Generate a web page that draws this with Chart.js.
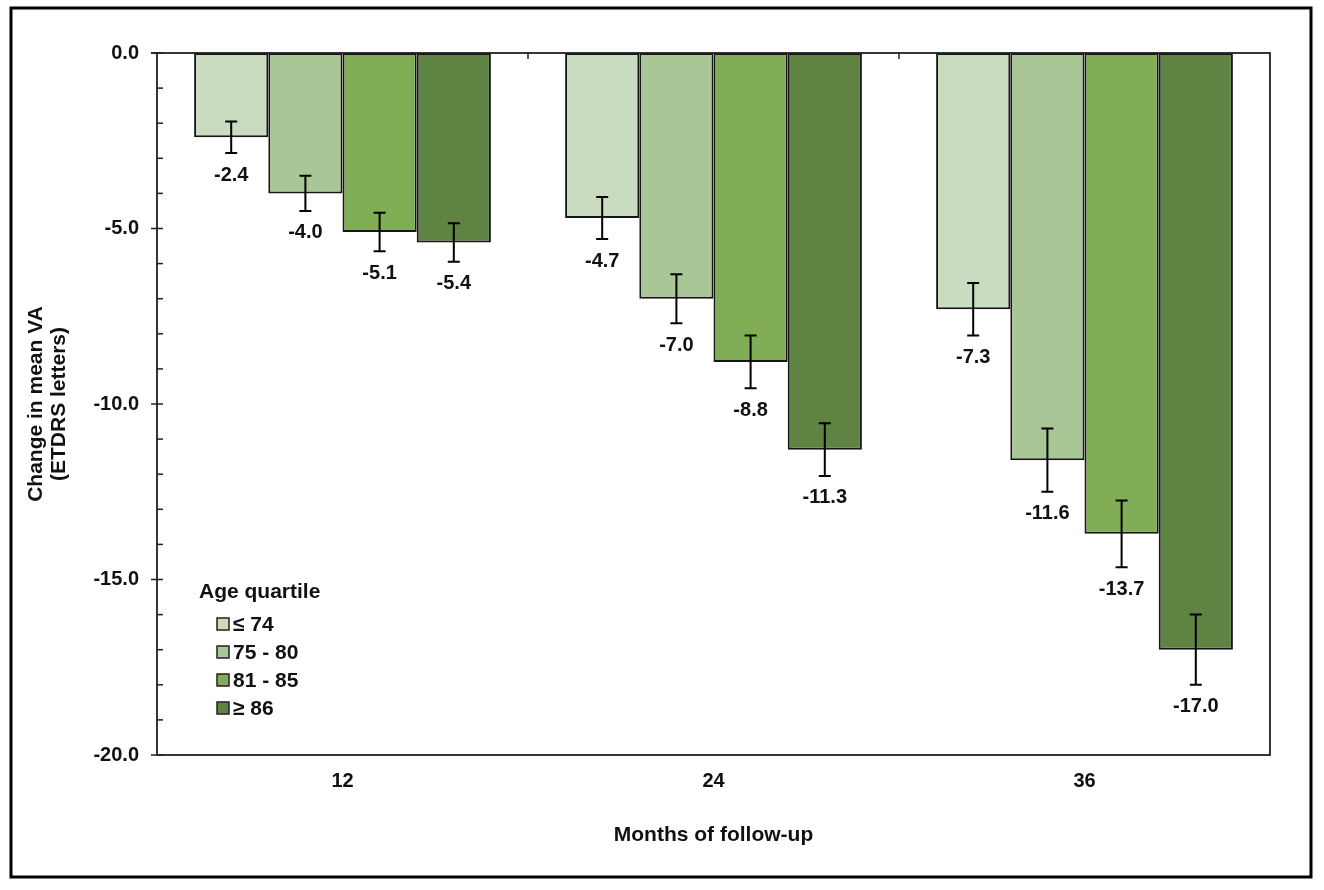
<!DOCTYPE html>
<html>
<head>
<meta charset="utf-8">
<script src="https://cdn.jsdelivr.net/npm/chart.js@4.4.1/dist/chart.umd.min.js"></script>
<style>
  html, body { margin: 0; padding: 0; background: #fff; }
  #wrap { width: 1324px; height: 890px; }
</style>
</head>
<body>
<div id="wrap"><canvas id="vaChart" width="1324" height="890"></canvas></div>
<script>
// ---- data ----
const months    = ['12', '24', '36'];
const ageGroups = ['\u2264 74', '75 - 80', '81 - 85', '\u2265 86'];

const q1 = [-2.4, -4.7, -7.3];
const q2 = [-4.0, -7.0, -11.6];
const q3 = [-5.1, -8.8, -13.7];
const q4 = [-5.4, -11.3, -17.0];

// half-length of the error bars
const q1Err = [0.45, 0.60, 0.75];
const q2Err = [0.50, 0.70, 0.90];
const q3Err = [0.55, 0.75, 0.95];
const q4Err = [0.55, 0.75, 1.00];

const yTicks = [0, -5, -10, -15, -20];

const colors = ['#c9dcc0', '#a9c697', '#80ad55', '#5e8343'];
const FONT = "'Liberation Sans', Arial, sans-serif";
const INK = '#111';

const seriesValues = [q1, q2, q3, q4];
const seriesErrors = [q1Err, q2Err, q3Err, q4Err];

/* ===== outer frame + white background ===== */
const framePlugin = {
    id: 'frame',
    beforeDraw(chart) {
        const ctx = chart.ctx;
        ctx.save();
        ctx.fillStyle = '#fff';
        ctx.fillRect(0, 0, chart.width, chart.height);
        ctx.strokeStyle = '#000';
        ctx.lineWidth = 3;
        ctx.strokeRect(11, 8, 1300, 869);
        ctx.restore();
    }
};

/* ===== plot box, tick marks, error bars, value labels ===== */
const extrasPlugin = {
    id: 'extras',
    afterDatasetsDraw(chart) {
        const ctx = chart.ctx;
        const area = chart.chartArea;
        const y = chart.scales.y;
        const x = chart.scales.x;

        ctx.save();

        // error bars + labels
        chart.data.datasets.forEach((ds, di) => {
            const meta = chart.getDatasetMeta(di);
            meta.data.forEach((bar, i) => {
                const v = ds.data[i];
                const e = seriesErrors[di][i];
                const yHi = y.getPixelForValue(v + e);
                const yLo = y.getPixelForValue(v - e);
                const cx = bar.x;

                ctx.strokeStyle = '#000';
                ctx.lineWidth = 2;
                ctx.beginPath();
                ctx.moveTo(cx, yHi); ctx.lineTo(cx, yLo);
                ctx.moveTo(cx - 6, yHi); ctx.lineTo(cx + 6, yHi);
                ctx.moveTo(cx - 6, yLo); ctx.lineTo(cx + 6, yLo);
                ctx.stroke();

                ctx.fillStyle = INK;
                ctx.font = 'bold 20px ' + FONT;
                ctx.textAlign = 'center';
                ctx.textBaseline = 'middle';
                ctx.fillText(v.toFixed(1), cx, yLo + 22);
            });
        });

        // plot box
        ctx.strokeStyle = '#222';
        ctx.lineWidth = 1.8;
        ctx.strokeRect(area.left, area.top, area.right - area.left, area.bottom - area.top);
        ctx.beginPath();
        ctx.moveTo(area.left - 6, area.top);
        ctx.lineTo(area.left, area.top);
        ctx.stroke();

        // y tick marks (minor every 1, major every 5)
        ctx.lineWidth = 1.5;
        for (let v = 0; v >= -20; v--) {
            const py = y.getPixelForValue(v);
            ctx.beginPath();
            if (v % 5 === 0) {
                ctx.moveTo(area.left - 6, py);
            } else {
                ctx.moveTo(area.left, py);
            }
            ctx.lineTo(area.left + 6, py);
            ctx.stroke();
        }

        // category dividers on the zero line
        for (let i = 0; i < months.length - 1; i++) {
            const px = (x.getPixelForValue(i) + x.getPixelForValue(i + 1)) / 2;
            ctx.beginPath();
            ctx.moveTo(px, area.top);
            ctx.lineTo(px, area.top + 6);
            ctx.stroke();
        }

        ctx.restore();
    }
};

/* ===== legend in the lower left ===== */
const legendPlugin = {
    id: 'ageLegend',
    afterDraw(chart) {
        const ctx = chart.ctx;
        ctx.save();
        ctx.fillStyle = INK;
        ctx.textAlign = 'left';
        ctx.textBaseline = 'middle';
        ctx.font = 'bold 21px ' + FONT;
        ctx.fillText('Age quartile', 199, 592);

        chart.data.datasets.forEach((ds, i) => {
            const cy = 624 + i * 28;
            ctx.fillStyle = ds.backgroundColor;
            ctx.fillRect(217, cy - 6, 12, 12);
            ctx.strokeStyle = '#222';
            ctx.lineWidth = 1.5;
            ctx.strokeRect(217, cy - 6, 12, 12);
            ctx.fillStyle = INK;
            ctx.fillText(ds.label, 233, cy + 1);
        });
        ctx.restore();
    }
};

const datasets = ageGroups.map((g, i) => ({
    label: g,
    data: seriesValues[i],
    backgroundColor: colors[i],
    borderColor: '#161616',
    borderWidth: 2,
    borderSkipped: false,
    categoryPercentage: 0.8,
    barPercentage: 1.0
}));

new Chart(document.getElementById('vaChart'), {
    type: 'bar',
    data: { labels: months, datasets },
    options: {
        responsive: false,
        animation: false,
        devicePixelRatio: 1,
        layout: { padding: { top: 53, right: 54, left: 0, bottom: 0 } },
        plugins: {
            legend: { display: false },
            tooltip: { enabled: false }
        },
        scales: {
            x: {
                grid: { display: false, drawTicks: false },
                border: { display: false },
                ticks: {
                    padding: 14,
                    color: INK,
                    font: { family: FONT, size: 20, weight: 'bold' }
                },
                title: {
                    display: true,
                    text: 'Months of follow-up',
                    color: INK,
                    font: { family: FONT, size: 21, weight: 'bold' },
                    padding: { top: 0, bottom: 42 }
                },
                afterFit(scale) { scale.height = 135; }
            },
            y: {
                min: yTicks[yTicks.length - 1],
                max: yTicks[0],
                grid: { display: false, drawTicks: false },
                border: { display: false },
                afterBuildTicks(scale) {
                    scale.ticks = yTicks.map(v => ({ value: v }));
                },
                ticks: {
                    padding: 18,
                    color: INK,
                    font: { family: FONT, size: 20, weight: 'bold' },
                    callback: v => Number(v).toFixed(1)
                },
                title: {
                    display: true,
                    text: ['Change in mean VA', '(ETDRS letters)'],
                    color: INK,
                    font: { family: FONT, size: 21, weight: 'bold', lineHeight: 1.12 },
                    padding: { top: 24, bottom: 0 }
                },
                afterFit(scale) { scale.width = 157; }
            }
        }
    },
    plugins: [framePlugin, extrasPlugin, legendPlugin]
});
</script>
</body>
</html>
